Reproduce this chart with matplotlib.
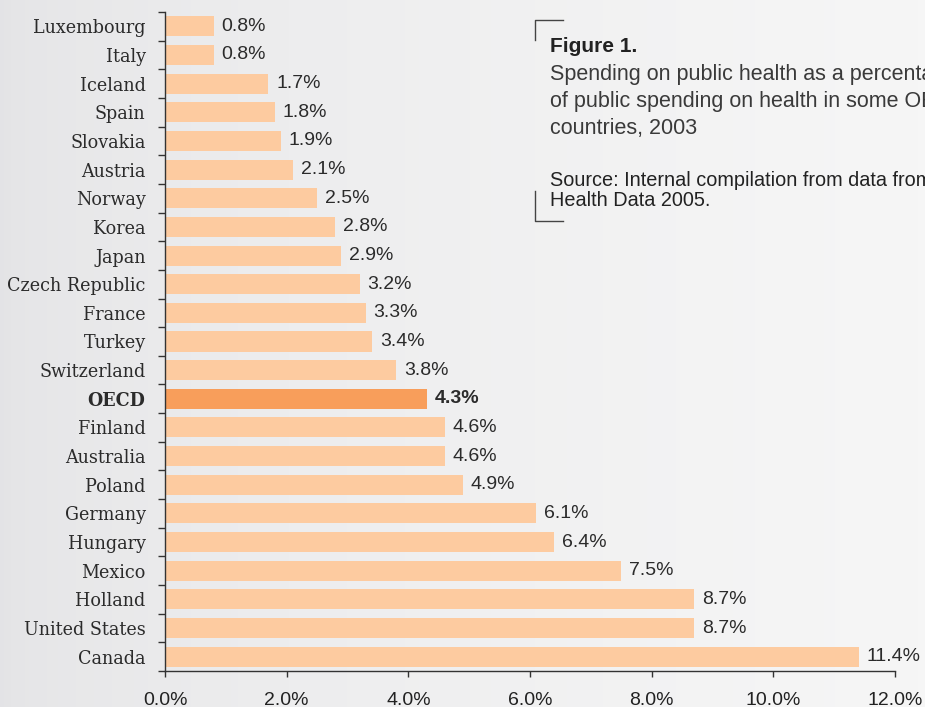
import matplotlib
matplotlib.use("Agg")
import matplotlib.pyplot as plt
import numpy as np
from matplotlib.lines import Line2D

countries = ["Luxembourg", "Italy", "Iceland", "Spain", "Slovakia", "Austria", "Norway",
             "Korea", "Japan", "Czech Republic", "France", "Turkey", "Switzerland", "OECD",
             "Finland", "Australia", "Poland", "Germany", "Hungary", "Mexico", "Holland",
             "United States", "Canada"]
values = [0.8, 0.8, 1.7, 1.8, 1.9, 2.1, 2.5, 2.8, 2.9, 3.2, 3.3, 3.4, 3.8, 4.3,
          4.6, 4.6, 4.9, 6.1, 6.4, 7.5, 8.7, 8.7, 11.4]
highlight = "OECD"
xticks = [0, 2, 4, 6, 8, 10, 12]

W, H = 925, 707
fig = plt.figure(figsize=(W / 100, H / 100), dpi=100)

# background gradient
bg = fig.add_axes([0, 0, 1, 1], zorder=-10)
grad = np.linspace(0, 1, 256)
c0 = np.array([0.894, 0.894, 0.902])
c1 = np.array([0.965, 0.965, 0.965])
g = np.clip(grad ** 0.6, 0, 1)
img = c0[None, :] * (1 - g[:, None]) + c1[None, :] * g[:, None]
bg.imshow(img[None, :, :], aspect="auto", extent=[0, 1, 0, 1])
bg.set_axis_off()

ax = fig.add_axes([165 / W, 1 - 671 / H, (895 - 165) / W, (671 - 12) / H])
ax.patch.set_alpha(0)

n = len(countries)
y = np.arange(n)
colors = ["#F89E5B" if c == highlight else "#FDCBA0" for c in countries]
ax.barh(y, values, height=0.7, color=colors, zorder=2)

ax.set_xlim(0, 12)
ax.set_ylim(n - 0.5, -0.5)

for sp in ["top", "right"]:
    ax.spines[sp].set_visible(False)
for sp in ["left", "bottom"]:
    ax.spines[sp].set_color("#333333")
    ax.spines[sp].set_linewidth(1.0)

ax.set_yticks(y)
ax.set_yticklabels(countries)
ax.tick_params(axis="y", length=0, pad=14, labelsize=14, labelcolor="#2b2b2b")
ax.set_yticks(np.arange(-0.5, n + 0.5, 1), minor=True)
ax.tick_params(axis="y", which="minor", length=5, width=1, color="#333333")
for lab in ax.get_yticklabels():
    lab.set_family("DejaVu Serif")
    lab.set_stretch("condensed")
    if lab.get_text() == highlight:
        lab.set_fontweight("bold")

ax.set_xticks(xticks)
ax.set_xticklabels([f"{v:.1f}%" for v in xticks])
ax.tick_params(axis="x", length=4, width=1, color="#333333", pad=11, labelsize=14,
               labelcolor="#222222")
for lab in ax.get_xticklabels():
    lab.set_family(["Liberation Sans", "DejaVu Sans"])

for yi, v, c in zip(y, values, countries):
    ax.text(v + 0.13, yi, f"{v:.1f}%", va="center", ha="left", fontsize=14,
            family=["Liberation Sans", "DejaVu Sans"], color="#2b2b2b",
            fontweight="bold" if c == highlight else "normal", zorder=3)

# title block
tc = "#3a3a3a"
fig.text(550 / W, 1 - 46 / H, "Figure 1.", fontsize=15, fontweight="bold",
         family=["Liberation Sans", "DejaVu Sans"], color="#222222", va="center")
fig.text(550 / W, 1 - 64 / H,
         "Spending on public health as a percentage\nof public spending on health in some OECD\ncountries, 2003",
         fontsize=15.5, family=["Liberation Sans", "DejaVu Sans"], color=tc, va="top",
         linespacing=1.38)
fig.text(550 / W, 1 - 171 / H,
         "Source: Internal compilation from data from OECD\nHealth Data 2005.",
         fontsize=14.3, family=["Liberation Sans", "DejaVu Sans"], color="#222222", va="top",
         linespacing=1.1)
lc = "#444444"
fig.add_artist(Line2D([535 / W, 535 / W, 563 / W], [1 - 40 / H, 1 - 20 / H, 1 - 20 / H],
                      color=lc, lw=1.0))
fig.add_artist(Line2D([535 / W, 535 / W, 563 / W], [1 - 191 / H, 1 - 221 / H, 1 - 221 / H],
                      color=lc, lw=1.0))

fig.savefig("out.png", dpi=100)
